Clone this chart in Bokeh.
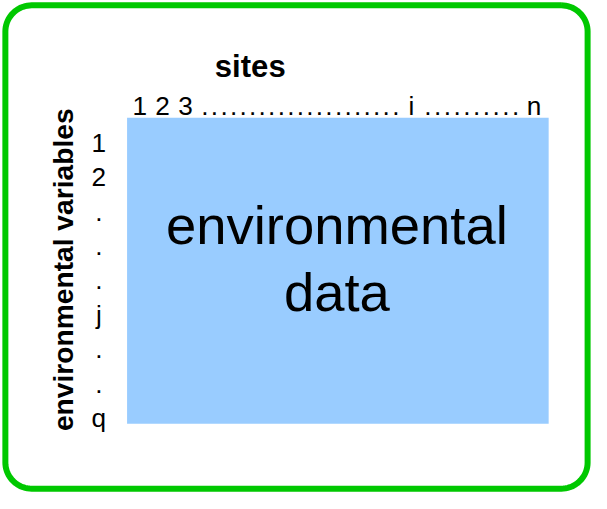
import numpy as np
from bokeh.plotting import figure
from bokeh.models import Range1d
from bokeh.core.properties import value
from bokeh.embed import file_html
from bokeh.resources import INLINE

# ---- content (texts) ----
col_title = "sites"
row_title = "environmental variables"
site_labels = ["1", "2", "3"]
site_mid = "i"
site_last = "n"
dots_before_i = 21
dots_after_i = 10
var_labels = ["1", "2", ".", ".", ".", "j", ".", ".", "q"]
body_lines = ["environmental", "data"]

# ---- colours ----
BORDER = "#00c800"
BLUE = "#99ccff"
FONT = "Liberation Sans"

# ---- layout: the diagram is laid out in a 607 x 509 design space ----
W, H = 591, 493
S = 0.971  # design-space to screen scale for font sizes
def fs(px):
    return f"{px * S:.1f}px"

p = figure(width=W, height=H, output_backend="svg", toolbar_location=None,
           x_range=Range1d(0, 607), y_range=Range1d(509, 0),
           x_axis_location=None, y_axis_location=None, min_border=0,
           background_fill_color="white", border_fill_color="white")
p.grid.visible = False
p.outline_line_color = None

# rounded green frame
x0, x1, y0, y1, r = 5, 603, 5, 504, 27
def arc(cx, cy, a0, a1):
    t = np.linspace(a0, a1, 20)
    return cx + r * np.cos(t), cy + r * np.sin(t)
parts = [arc(x1 - r, y0 + r, -np.pi / 2, 0), arc(x1 - r, y1 - r, 0, np.pi / 2),
         arc(x0 + r, y1 - r, np.pi / 2, np.pi), arc(x0 + r, y0 + r, np.pi, 1.5 * np.pi)]
fx = np.concatenate([a[0] for a in parts] + [parts[0][0][:1]])
fy = np.concatenate([a[1] for a in parts] + [parts[0][1][:1]])
p.line(fx, fy, line_color=BORDER, line_width=6, line_join="round")

# blue data matrix
p.quad(left=[130], right=[563], top=[121], bottom=[437], fill_color=BLUE, line_color=None)

# column header tokens
tok, tx = [], []
for k, s in enumerate(site_labels):
    tok.append(s); tx.append(143 + 23.5 * k)
for k in range(dots_before_i):
    tok.append("."); tx.append(210 + 9.8 * k)
tok.append(site_mid); tx.append(422)
for k in range(dots_after_i):
    tok.append("."); tx.append(439 + 10.0 * k)
tok.append(site_last); tx.append(548)
p.text(x=tx, y=[109] * len(tok), text=tok, text_font=value(FONT), text_font_size=fs(27),
       text_align="center", text_baseline="alphabetic", text_color="black")

# row labels
ry = [147 + 35.5 * k for k in range(len(var_labels))]
p.text(x=[101] * len(var_labels), y=ry, text=var_labels, text_font=value(FONT),
       text_font_size=fs(27), text_align="center", text_baseline="alphabetic", text_color="black")

# titles
p.text(x=[256.5], y=[68], text=[col_title], text_font=value(FONT), text_font_size=fs(32),
       text_font_style="bold", text_align="center", text_baseline="alphabetic", text_color="black")
p.text(x=[64], y=[278], text=[row_title], text_font=value(FONT), text_font_size=fs(29),
       text_font_style="bold", text_align="center", text_baseline="alphabetic",
       angle=np.pi / 2, text_color="black")

# body text
p.text(x=[345.5, 345.5], y=[232, 301], text=body_lines, text_font=value(FONT),
       text_font_size=fs(56), text_align="center", text_baseline="alphabetic", text_color="black")

open("out.html", "w").write(file_html(p, INLINE))
